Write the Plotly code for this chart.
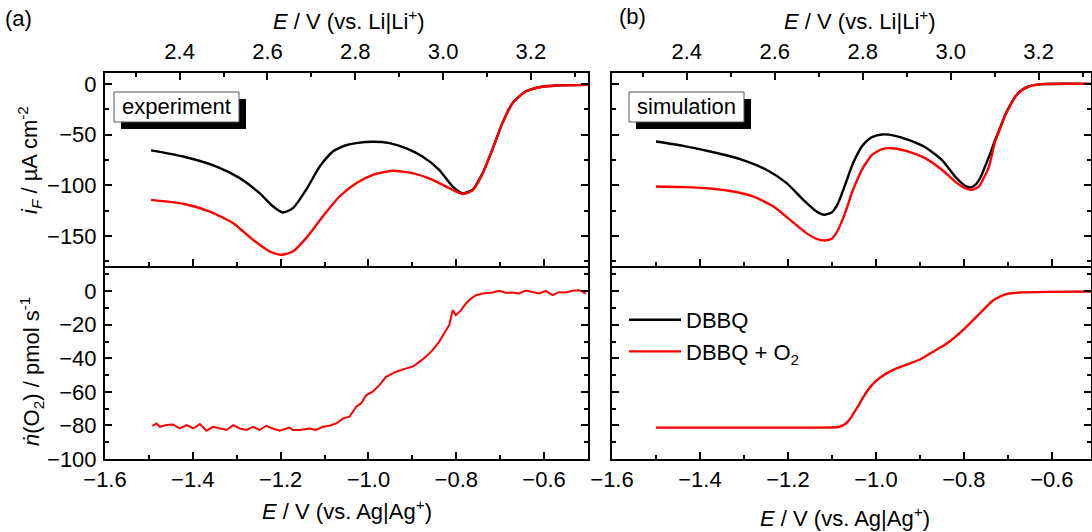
import plotly.graph_objects as go

# ---------------- data ----------------
# (a) experiment, Faradaic current (µA cm^-2) vs E (V vs Ag|Ag+)
E_exp_dbbq = [-1.495, -1.422, -1.346, -1.293, -1.248, -1.217, -1.195, -1.172, -1.142, -1.111,
              -1.081, -1.051, -1.028, -0.990, -0.952, -0.915, -0.877, -0.839, -0.808, -0.786,
              -0.763, -0.740, -0.718, -0.695, -0.672, -0.642, -0.611, -0.573, -0.500]
i_exp_dbbq = [-65.5, -71.6, -81.5, -92.9, -107.7, -120.9, -126.8, -122.5, -104.4, -81.5,
              -66.7, -60.5, -58.4, -57.1, -58.4, -63.4, -71.6, -84.7, -101.2, -107.7,
              -104.4, -88.0, -65.0, -38.7, -19.0, -7.6, -3.3, -1.6, -1.0]

E_exp_o2 = [-1.495, -1.422, -1.361, -1.308, -1.263, -1.225, -1.198, -1.172, -1.142, -1.104,
            -1.066, -1.028, -0.990, -0.945, -0.900, -0.854, -0.816, -0.786, -0.763, -0.740,
            -0.718, -0.695, -0.672, -0.642, -0.611, -0.573, -0.500]
i_exp_o2 = [-114.3, -118.2, -125.8, -137.3, -153.7, -165.2, -168.5, -165.2, -152.0, -130.7,
            -111.0, -97.9, -89.7, -85.7, -88.0, -94.6, -102.8, -108.5, -105.0, -88.5,
            -65.0, -38.7, -19.0, -7.6, -3.3, -1.6, -1.0]

# (b) simulation, Faradaic current
E_sim_dbbq = [-1.500, -1.438, -1.377, -1.309, -1.249, -1.203, -1.165, -1.135, -1.118, -1.100,
              -1.087, -1.076, -1.065, -1.055, -1.043, -1.032, -1.020, -1.009, -0.986, -0.956,
              -0.926, -0.888, -0.850, -0.820, -0.797, -0.786, -0.774, -0.762, -0.752, -0.740,
              -0.729, -0.717, -0.706, -0.694, -0.683, -0.668, -0.653, -0.623, -0.510]
i_sim_dbbq = [-56.8, -61.1, -66.7, -74.2, -84.7, -97.8, -114.3, -125.8, -129.0, -126.5,
              -118.5, -106.5, -93.5, -81.5, -70.0, -61.8, -56.0, -52.5, -49.9, -51.2,
              -55.2, -62.4, -74.9, -91.3, -100.5, -102.1, -99.5, -92.0, -81.5, -68.5,
              -55.2, -42.5, -30.5, -20.5, -12.5, -6.0, -2.6, -0.3, 0.0]

E_sim_o2 = [-1.500, -1.438, -1.377, -1.324, -1.279, -1.233, -1.195, -1.158, -1.135, -1.116,
            -1.100, -1.088, -1.076, -1.065, -1.055, -1.043, -1.032, -1.020, -1.009, -0.986,
            -0.964, -0.926, -0.888, -0.850, -0.820, -0.797, -0.783, -0.766, -0.755, -0.743,
            -0.729, -0.717, -0.706, -0.694, -0.683, -0.668, -0.653, -0.623, -0.510]
i_sim_o2 = [-101.2, -101.8, -103.1, -106.1, -111.0, -120.9, -134.0, -147.1, -152.7, -154.4,
            -152.5, -145.5, -134.0, -121.0, -107.7, -95.0, -84.7, -76.5, -70.0, -64.3,
            -63.4, -66.7, -73.2, -84.7, -96.3, -102.8, -104.4, -101.2, -93.0, -81.5,
            -57.0, -43.5, -31.0, -20.8, -12.7, -6.1, -2.6, -0.3, 0.0]

# O2 flux (pmol s^-1), experiment
E_exp_n = [-1.492, -1.483, -1.475, -1.460, -1.445, -1.430, -1.414, -1.399, -1.384, -1.369,
           -1.354, -1.339, -1.323, -1.308, -1.293, -1.278, -1.263, -1.248, -1.233, -1.218,
           -1.202, -1.187, -1.180, -1.172, -1.157, -1.134, -1.119, -1.104, -1.089, -1.073,
           -1.058, -1.043, -1.028, -1.017, -1.005, -0.990, -0.975, -0.960, -0.937, -0.914,
           -0.899, -0.884, -0.869, -0.854, -0.839, -0.823, -0.816, -0.808, -0.801, -0.789,
           -0.778, -0.767, -0.755, -0.740, -0.717, -0.702, -0.687, -0.672, -0.657, -0.642,
           -0.627, -0.611, -0.596, -0.581, -0.566, -0.551, -0.536, -0.520, -0.505]
n_exp = [-80.2, -78.8, -80.8, -79.8, -79.4, -81.8, -79.8, -81.8, -79.2, -83.1,
         -80.8, -81.8, -82.7, -79.8, -81.8, -82.7, -80.8, -82.7, -80.2, -81.8,
         -83.1, -81.8, -81.3, -82.7, -82.7, -81.8, -82.7, -80.8, -80.2, -78.8,
         -75.8, -74.8, -68.8, -66.9, -61.9, -59.9, -56.0, -51.0, -48.0, -46.0,
         -45.0, -42.1, -39.1, -35.1, -30.2, -23.2, -20.2, -11.3, -14.3, -11.3,
         -7.3, -4.4, -2.4, -1.4, -0.8, 0.2, -1.0, -0.8, -1.4, 0.4,
         -0.6, -1.4, 0.2, -2.4, -0.6, -0.8, 0.2, 0.6, -1.4]

# O2 flux, simulation
E_sim_n = [-1.500, -1.294, -1.100, -1.085, -1.075, -1.066, -1.058, -1.050, -1.040, -1.030,
           -1.020, -1.010, -1.000, -0.990, -0.976, -0.953, -0.923, -0.900, -0.870, -0.839,
           -0.802, -0.764, -0.748, -0.733, -0.718, -0.703, -0.688, -0.673, -0.612, -0.511]
n_sim = [-81.3, -81.3, -81.2, -80.9, -80.0, -78.3, -75.8, -72.4, -68.3, -63.7,
         -59.6, -56.3, -53.6, -51.4, -49.0, -46.0, -43.1, -40.7, -36.1, -31.2,
         -23.2, -13.3, -9.0, -5.4, -3.2, -1.8, -1.1, -0.8, -0.4, -0.2]

LI_OFFSET = 3.83  # E(vs Li|Li+) = E(vs Ag|Ag+) + offset

# ---------------- figure ----------------
W, H = 1092, 532
def px(p):
    return p / W
def py(p):
    return 1 - p / H

FONT = "Liberation Sans, Arial, sans-serif"
FS = 22
LW = 2.4

def smooth_line(color, width=LW):
    return dict(color=color, width=width, shape="spline", smoothing=0.6)

fig = go.Figure()
fig.add_trace(go.Scatter(x=E_exp_dbbq, y=i_exp_dbbq, mode="lines", line=smooth_line("black"),
                         xaxis="x", yaxis="y", showlegend=False))
fig.add_trace(go.Scatter(x=E_exp_o2, y=i_exp_o2, mode="lines", line=smooth_line("#ff0000"),
                         xaxis="x", yaxis="y", showlegend=False))
fig.add_trace(go.Scatter(x=E_exp_n, y=n_exp, mode="lines", line=dict(color="#ff0000", width=2),
                         xaxis="x3", yaxis="y3", showlegend=False))
fig.add_trace(go.Scatter(x=E_sim_dbbq, y=i_sim_dbbq, mode="lines", line=smooth_line("black"),
                         xaxis="x4", yaxis="y4", name="DBBQ", showlegend=True))
fig.add_trace(go.Scatter(x=E_sim_o2, y=i_sim_o2, mode="lines", line=smooth_line("#ff0000"),
                         xaxis="x4", yaxis="y4", name="DBBQ + O<sub>2</sub>", showlegend=True))
fig.add_trace(go.Scatter(x=E_sim_n, y=n_sim, mode="lines", line=smooth_line("#ff0000"),
                         xaxis="x6", yaxis="y6", showlegend=False))
# empty traces so that the secondary (Li|Li+) axes are created
fig.add_trace(go.Scatter(x=[], y=[], mode="lines", xaxis="x2", yaxis="y", showlegend=False, hoverinfo="skip"))
fig.add_trace(go.Scatter(x=[], y=[], mode="lines", xaxis="x5", yaxis="y4", showlegend=False, hoverinfo="skip"))

L_DOM = [px(105), px(588)]
R_DOM = [px(612), px(1091)]
TOP_DOM = [py(266), py(73)]
BOT_DOM = [py(459), py(266)]
L_RANGE = [-1.6, -0.5]
R_RANGE = [-1.6, -0.511]
I_RANGE = [-179.5, 10.7]
N_RANGE = [-100, 15]

def ax_common(**kw):
    d = dict(showline=True, linecolor="black", linewidth=2, ticks="inside", ticklen=7, tickwidth=2,
             tickcolor="black", showgrid=False, zeroline=False, automargin=False,
             tickfont=dict(family=FONT, size=FS, color="black"))
    d.update(kw)
    return d

xminor = dict(dtick=0.1, ticks="inside", ticklen=4, tickwidth=2, tickcolor="black", showgrid=False)

layout = dict(
    template="none",
    width=W, height=H, autosize=False,
    margin=dict(l=0, r=0, t=0, b=0, pad=0),
    paper_bgcolor="white", plot_bgcolor="white",
    font=dict(family=FONT, size=FS, color="black"),
    # top-left
    xaxis=ax_common(domain=L_DOM, range=L_RANGE, anchor="y", showticklabels=False, dtick=0.2, tick0=-1.6,
                    minor=xminor),
    xaxis2=ax_common(overlaying="x", side="top", anchor="y", range=[L_RANGE[0] + LI_OFFSET, L_RANGE[1] + LI_OFFSET],
                     dtick=0.2, tick0=0, tickformat=".1f", minor=xminor, ticklabelstandoff=3),
    yaxis=ax_common(domain=TOP_DOM, range=I_RANGE, anchor="x", dtick=50, tick0=0, mirror="ticks",
                    minor=dict(dtick=25, ticks="inside", ticklen=4, tickwidth=2, tickcolor="black"),
                    ticklabelstandoff=2),
    # bottom-left
    xaxis3=ax_common(domain=L_DOM, range=L_RANGE, anchor="y3", dtick=0.2, tick0=-1.6, tickformat=".1f",
                     mirror=False, minor=xminor, ticklabelstandoff=0),
    yaxis3=ax_common(domain=BOT_DOM, range=N_RANGE, anchor="x3", dtick=20, tick0=0, mirror="ticks",
                     minor=dict(dtick=10, ticks="inside", ticklen=4, tickwidth=2, tickcolor="black"),
                     ticklabelstandoff=2),
    # top-right
    xaxis4=ax_common(domain=R_DOM, range=R_RANGE, anchor="y4", showticklabels=False, dtick=0.2, tick0=-1.6,
                     minor=xminor),
    xaxis5=ax_common(overlaying="x4", side="top", anchor="y4", range=[R_RANGE[0] + LI_OFFSET, R_RANGE[1] + LI_OFFSET],
                     dtick=0.2, tick0=0, tickformat=".1f", minor=xminor, ticklabelstandoff=3),
    yaxis4=ax_common(domain=TOP_DOM, range=I_RANGE, anchor="x4", dtick=50, tick0=0, mirror="ticks",
                     showticklabels=False,
                     minor=dict(dtick=25, ticks="inside", ticklen=4, tickwidth=2, tickcolor="black")),
    # bottom-right
    xaxis6=ax_common(domain=R_DOM, range=R_RANGE, anchor="y6", dtick=0.2, tick0=-1.6, tickformat=".1f",
                     mirror=False, minor=xminor, ticklabelstandoff=0),
    yaxis6=ax_common(domain=BOT_DOM, range=N_RANGE, anchor="x6", dtick=20, tick0=0, mirror="ticks",
                     showticklabels=False,
                     minor=dict(dtick=10, ticks="inside", ticklen=4, tickwidth=2, tickcolor="black")),
    legend=dict(x=px(624), y=py(299), xanchor="left", yanchor="top", bgcolor="rgba(0,0,0,0)",
                borderwidth=0, font=dict(family=FONT, size=FS, color="black"), itemwidth=52,
                tracegroupgap=0),
    showlegend=True,
)
fig.update_layout(**layout)

def ann(x, y, text, angle=0, size=FS):
    fig.add_annotation(x=px(x), y=py(y), xref="paper", yref="paper", text=text, showarrow=False,
                       textangle=angle, xanchor="center", yanchor="middle",
                       font=dict(family=FONT, size=size, color="black"))

ann(18, 18, "(a)")
ann(632, 17, "(b)")
ann(349, 20, "<i>E</i> / V (vs. Li|Li<sup>+</sup>)")
ann(860, 20, "<i>E</i> / V (vs. Li|Li<sup>+</sup>)")
ann(347, 510, "<i>E</i> / V (vs. Ag|Ag<sup>+</sup>)")
ann(845, 517, "<i>E</i> / V (vs. Ag|Ag<sup>+</sup>)")
ann(29, 160, "<i>i<sub>F</sub></i> / µA cm<sup>-2</sup>", angle=-90)
ann(31, 372, "<i>ṅ</i>(O<sub>2</sub>) / pmol s<sup>-1</sup>", angle=-90)

# labelled boxes with drop shadow
def label_box(x0, y0, x1, y1, text):
    fig.add_shape(type="rect", xref="paper", yref="paper", x0=px(x0 + 7), x1=px(x1 + 7), y0=py(y1 + 7), y1=py(y0 + 7),
                  fillcolor="black", line=dict(width=0), layer="above")
    fig.add_shape(type="rect", xref="paper", yref="paper", x0=px(x0), x1=px(x1), y0=py(y1), y1=py(y0),
                  fillcolor="white", line=dict(color="#555555", width=1), layer="above")
    ann((x0 + x1) / 2, (y0 + y1) / 2, text)

label_box(114, 92, 239, 122, "experiment")
label_box(629, 92, 744, 122, "simulation")

fig.write_html("out.html")
